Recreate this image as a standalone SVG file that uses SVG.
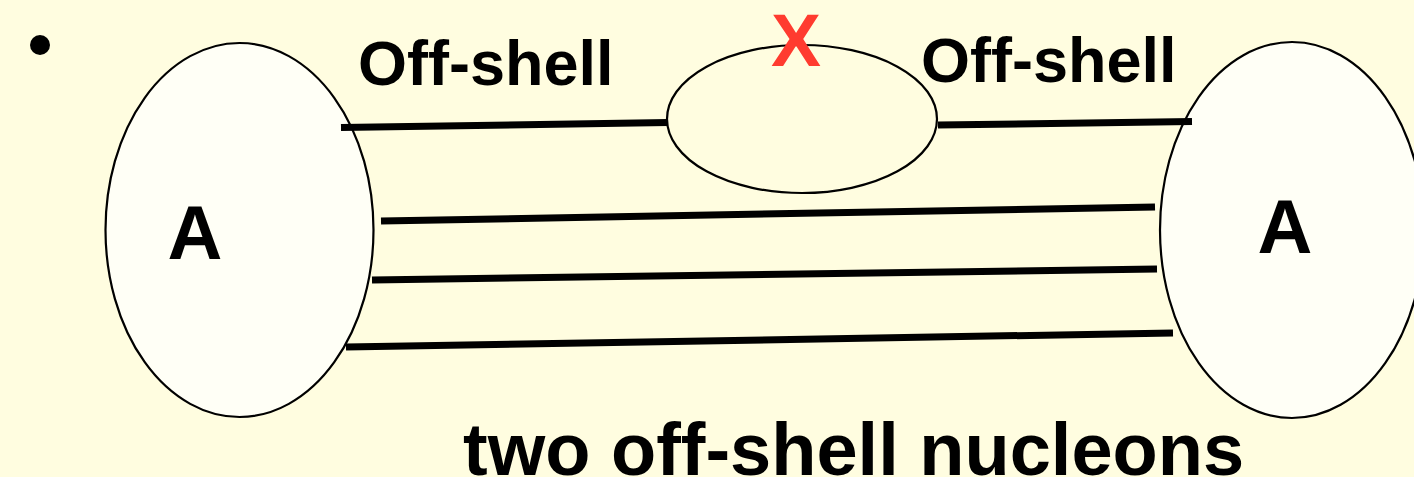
<svg xmlns="http://www.w3.org/2000/svg" width="1414" height="477" viewBox="0 0 1414 477">
  <style>
    .bg { fill: #FFFDE0; }
    .nucleus { fill: #FFFFF6; stroke: #000; stroke-width: 2.2; }
    .loop { fill: #FFFDE0; stroke: #000; stroke-width: 2.2; }
    .line { stroke: #000; stroke-width: 7; fill: none; }
    .lbl { font-family: "Liberation Sans", Arial, sans-serif; font-weight: bold; fill: #000; }
  </style>
  <rect class="bg" x="0" y="0" width="1414" height="477"/>

  <!-- bullet -->
  <circle cx="40" cy="45" r="10" fill="#000"/>

  <!-- left nucleus -->
  <g id="nucleus-left">
    <ellipse class="nucleus" cx="239.5" cy="230" rx="134" ry="187"/>
    <text class="lbl" x="195" y="259" font-size="76" text-anchor="middle">A</text>
  </g>

  <!-- right nucleus -->
  <g id="nucleus-right">
    <ellipse class="nucleus" cx="1292" cy="230" rx="132" ry="188"/>
    <text class="lbl" x="1285" y="253" font-size="76" text-anchor="middle">A</text>
  </g>

  <!-- off-shell loop with the cut mark -->
  <g id="loop">
    <ellipse class="loop" cx="802" cy="119" rx="135" ry="74"/>
    <text x="796" y="66" font-family="Liberation Sans, Arial, sans-serif" font-weight="bold" font-size="75" fill="#FF3B2F" text-anchor="middle">X</text>
  </g>

  <!-- nucleon lines -->
  <g id="connectors">
    <line class="line" x1="341" y1="127.5" x2="668" y2="122.5"/>
    <line class="line" x1="938" y1="125" x2="1192" y2="121.5"/>
    <line class="line" x1="381" y1="221" x2="1155" y2="207"/>
    <line class="line" x1="372" y1="280" x2="1157" y2="269"/>
    <line class="line" x1="346" y1="347" x2="1173" y2="333"/>
  </g>

  <!-- labels -->
  <g id="labels">
    <text class="lbl" x="358" y="85" font-size="63">Off-shell</text>
    <text class="lbl" x="921" y="82" font-size="63">Off-shell</text>
    <text class="lbl" x="463" y="475" font-size="74">two off-shell nucleons</text>
  </g>
</svg>
